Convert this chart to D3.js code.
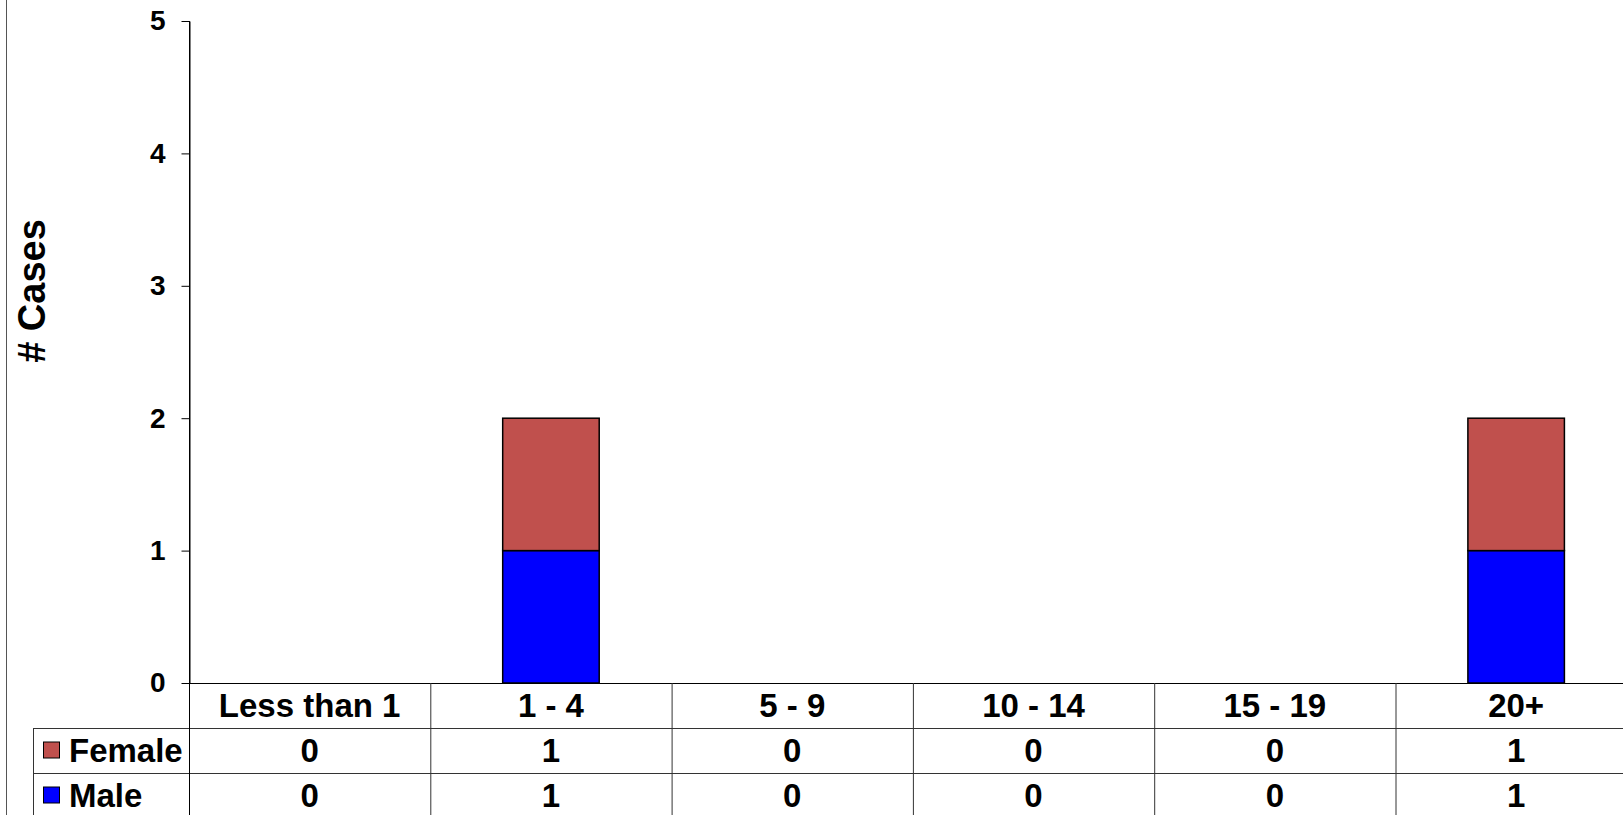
<!DOCTYPE html>
<html>
<head>
<meta charset="utf-8">
<script src="https://cdn.jsdelivr.net/npm/d3@7"></script>
<style>
  html, body { margin: 0; padding: 0; background: #fff; overflow: hidden; }
  svg { display: block; font-family: "Liberation Sans", Arial, sans-serif; font-weight: bold; }
</style>
</head>
<body>
<svg id="chart" width="1623" height="815"></svg>
<script>
// Age groups and case counts by sex
const categories = ["Less than 1", "1 - 4", "5 - 9", "10 - 14", "15 - 19", "20+"];
const femaleCases = [0, 1, 0, 0, 0, 1];
const maleCases = [0, 1, 0, 0, 0, 1];
const yTicks = [0, 1, 2, 3, 4, 5];

const seriesNames = ["Male", "Female"];
const seriesColors = { Male: "#0000FF", Female: "#C0504D" };

const rows = categories.map((c, i) => ({ category: c, Male: maleCases[i], Female: femaleCases[i] }));

const svg = d3.select("#chart");

// Layout
const plotLeft = 189, plotTop = 21, plotBottom = 683;
const colWidth = 241.3;
const rowH = 45;
const tableLeft = 33;
const tableFont = 33;

const x = d3.scaleBand()
  .domain(categories)
  .range([plotLeft, plotLeft + colWidth * categories.length])
  .paddingInner(0).paddingOuter(0);

const y = d3.scaleLinear().domain([0, 5]).range([plotBottom, plotTop]);

// Outer chart frame (left edge visible)
svg.append("line")
  .attr("x1", 6.5).attr("x2", 6.5).attr("y1", 0).attr("y2", 815)
  .attr("stroke", "#555").attr("stroke-width", 1);

// Stacked bars
const stack = d3.stack().keys(seriesNames);
const stacked = stack(rows);
const barW = x.bandwidth() * 0.4;

svg.append("g").selectAll("g")
  .data(stacked)
  .join("g")
  .attr("fill", d => seriesColors[d.key])
  .selectAll("rect")
  .data(d => d.filter(p => p[1] - p[0] > 0))
  .join("rect")
  .attr("x", d => x(d.data.category) + (x.bandwidth() - barW) / 2)
  .attr("y", d => y(d[1]))
  .attr("width", barW)
  .attr("height", d => y(d[0]) - y(d[1]))
  .attr("stroke", "#000")
  .attr("stroke-width", 1.5);

// Y axis
const yAxis = d3.axisLeft(y).tickValues(yTicks).tickFormat(d3.format("d"))
  .tickSizeInner(8).tickSizeOuter(0).tickPadding(16);
const gy = svg.append("g").attr("transform", `translate(${plotLeft + 0.5},0)`).call(yAxis);
gy.select(".domain").attr("stroke", "#000");
gy.selectAll(".tick line").attr("stroke", "#000");
gy.selectAll(".tick text")
  .attr("font-size", 28).attr("font-weight", "bold").attr("fill", "#000")
  .attr("font-family", "Liberation Sans, Arial, sans-serif");

// Axis title
svg.append("text")
  .attr("transform", `translate(45,291) rotate(-90)`)
  .attr("text-anchor", "middle")
  .attr("font-size", 38)
  .attr("fill", "#000")
  .text("# Cases");

// Data table beneath the plot
const table = svg.append("g");
const tableRight = x.range()[1];
const lineColor = "#333";

// zero line / table top
table.append("line")
  .attr("x1", plotLeft).attr("x2", tableRight)
  .attr("y1", plotBottom + 0.5).attr("y2", plotBottom + 0.5)
  .attr("stroke", "#000");

// horizontal row separators
[plotBottom + rowH, plotBottom + 2 * rowH, plotBottom + 3 * rowH].forEach(yy => {
  table.append("line")
    .attr("x1", tableLeft).attr("x2", tableRight)
    .attr("y1", yy + 0.5).attr("y2", yy + 0.5)
    .attr("stroke", lineColor);
});

// vertical column separators
categories.forEach(c => {
  table.append("line")
    .attr("x1", x(c) + 0.5).attr("x2", x(c) + 0.5)
    .attr("y1", c === categories[0] ? plotTop : plotBottom).attr("y2", 815)
    .attr("stroke", c === categories[0] ? "#000" : lineColor);
});
table.append("line")
  .attr("x1", tableRight).attr("x2", tableRight)
  .attr("y1", plotBottom).attr("y2", 815).attr("stroke", lineColor);

// table left edge
table.append("line")
  .attr("x1", tableLeft + 0.5).attr("x2", tableLeft + 0.5)
  .attr("y1", plotBottom + rowH).attr("y2", 815)
  .attr("stroke", lineColor);

// category labels
table.selectAll("text.cat")
  .data(categories)
  .join("text")
  .attr("class", "cat")
  .attr("x", d => x(d) + x.bandwidth() / 2)
  .attr("y", plotBottom + rowH / 2)
  .attr("dy", "0.36em")
  .attr("text-anchor", "middle")
  .attr("font-size", tableFont)
  .text(d => d);

// series rows
const tableRows = [
  { name: "Female", values: femaleCases },
  { name: "Male", values: maleCases }
];

tableRows.forEach((r, ri) => {
  const cy = plotBottom + rowH * (ri + 1) + rowH / 2;
  // legend key
  table.append("rect")
    .attr("x", 43.5).attr("y", cy - 8.5)
    .attr("width", 16).attr("height", 16)
    .attr("fill", seriesColors[r.name])
    .attr("stroke", "#000").attr("stroke-width", 1);
  table.append("text")
    .attr("x", 69).attr("y", cy).attr("dy", "0.36em")
    .attr("font-size", tableFont)
    .text(r.name);
  table.selectAll(null)
    .data(r.values)
    .join("text")
    .attr("x", (d, i) => x(categories[i]) + x.bandwidth() / 2)
    .attr("y", cy).attr("dy", "0.36em")
    .attr("text-anchor", "middle")
    .attr("font-size", tableFont)
    .text(d => d);
});
</script>
</body>
</html>
